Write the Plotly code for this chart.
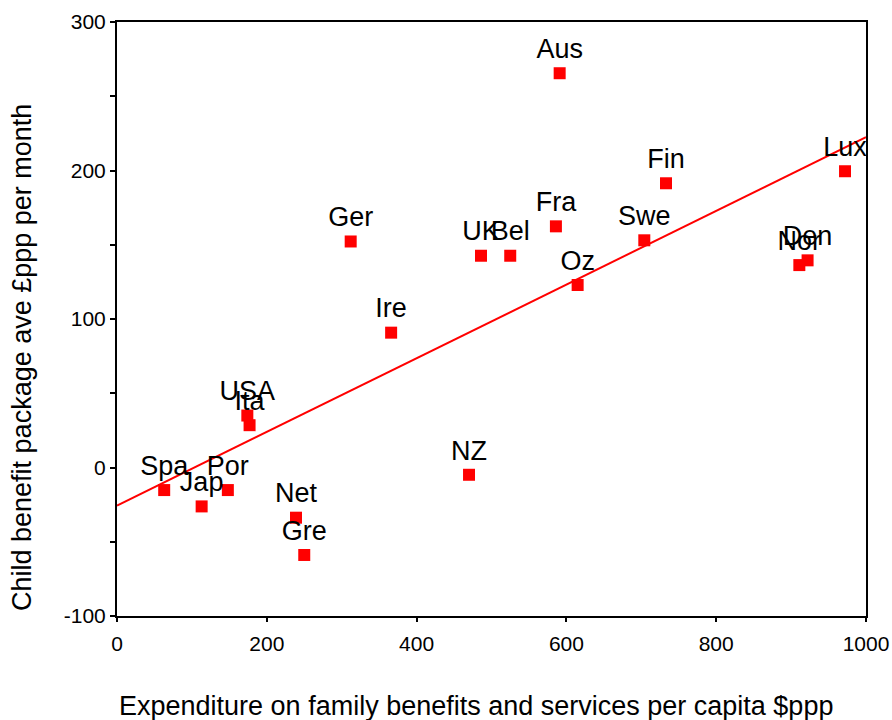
import plotly.graph_objects as go

# Data
countries = ["Aus", "Fin", "Lux", "Fra", "Swe", "Ger", "UK", "Bel", "Oz", "Den", "Nor",
             "Ire", "USA", "Ita", "Spa", "Por", "Jap", "NZ", "Net", "Gre"]
expenditure = [591, 733, 972, 586, 704, 312, 486, 525, 615, 922, 911,
               366, 174, 177, 63, 148, 113, 470, 239, 250]
child_benefit = [265.5, 191.4, 199.5, 162.4, 153.0, 152.2, 142.6, 142.6, 122.9, 139.5, 136.3,
                 90.8, 35.0, 28.5, -15.2, -15.2, -26.2, -4.9, -33.8, -58.9]

fit_intercept = -25.6
fit_slope = 0.248
fit_x = [0, 1000]
fit_y = [fit_intercept + fit_slope * v for v in fit_x]

x_ticks = [0, 200, 400, 600, 800, 1000]
y_ticks = [-100, 0, 100, 200, 300]

FONT = "Liberation Sans, Arial, sans-serif"

PLOT_L, PLOT_R, PLOT_T, PLOT_B = 117, 866, 22, 616
FIG_W, FIG_H = 892, 720

fig = go.Figure()
fig.add_trace(go.Scatter(
    x=fit_x, y=fit_y, mode="lines",
    line=dict(color="#ff0000", width=2),
    hoverinfo="skip", showlegend=False, cliponaxis=False,
))
fig.add_trace(go.Scatter(
    x=expenditure, y=child_benefit, mode="markers+text",
    text=countries, textposition="top center",
    textfont=dict(family=FONT, size=27, color="#000000"),
    marker=dict(symbol="square", size=12, color="#ff0000",
                line=dict(width=0)),
    showlegend=False, cliponaxis=False,
))

fig.update_layout(
    width=FIG_W, height=FIG_H,
    margin=dict(l=PLOT_L, r=FIG_W - PLOT_R, t=PLOT_T, b=FIG_H - PLOT_B,
                autoexpand=False),
    paper_bgcolor="white", plot_bgcolor="white",
    font=dict(family=FONT, color="#000000"),
    xaxis=dict(
        range=[0, 1000], tickvals=x_ticks, ticktext=[str(v) for v in x_ticks],
        automargin=False, ticklabeloverflow="allow",
        showgrid=False, zeroline=False, showline=True, linecolor="#000000",
        linewidth=2, mirror=True, ticks="outside", ticklen=4, tickwidth=2,
        tickcolor="#000000", tickfont=dict(size=21, family=FONT), ticklabelstandoff=4,
    ),
    yaxis=dict(
        range=[-100, 300], tickvals=y_ticks, ticktext=[str(v) for v in y_ticks],
        automargin=False,
        showgrid=False, zeroline=False, showline=True, linecolor="#000000",
        linewidth=2, mirror=True, ticks="outside", ticklen=5, tickwidth=2,
        tickcolor="#000000", tickfont=dict(size=21, family=FONT),
        minor=dict(dtick=50, tick0=0, ticks="outside", ticklen=5, tickwidth=1.5,
                   tickcolor="#000000", showgrid=False),
    ),
    annotations=[
        dict(text="Expenditure on family benefits and services per capita $ppp",
             xref="paper", yref="paper",
             x=(476 - PLOT_L) / (PLOT_R - PLOT_L), y=(PLOT_B - 706) / (PLOT_B - PLOT_T),
             xanchor="center", yanchor="middle", showarrow=False,
             font=dict(size=27, family=FONT)),
        dict(text="Child benefit package ave £ppp per month",
             xref="paper", yref="paper",
             x=(22 - PLOT_L) / (PLOT_R - PLOT_L), y=(PLOT_B - 358) / (PLOT_B - PLOT_T),
             xanchor="center", yanchor="middle", textangle=-90, showarrow=False,
             font=dict(size=27, family=FONT)),
    ],
)

fig.write_html(
    "out.html",
    config={"displayModeBar": False},
    post_script="document.body.style.margin='0';document.body.style.overflow='hidden';",
)
